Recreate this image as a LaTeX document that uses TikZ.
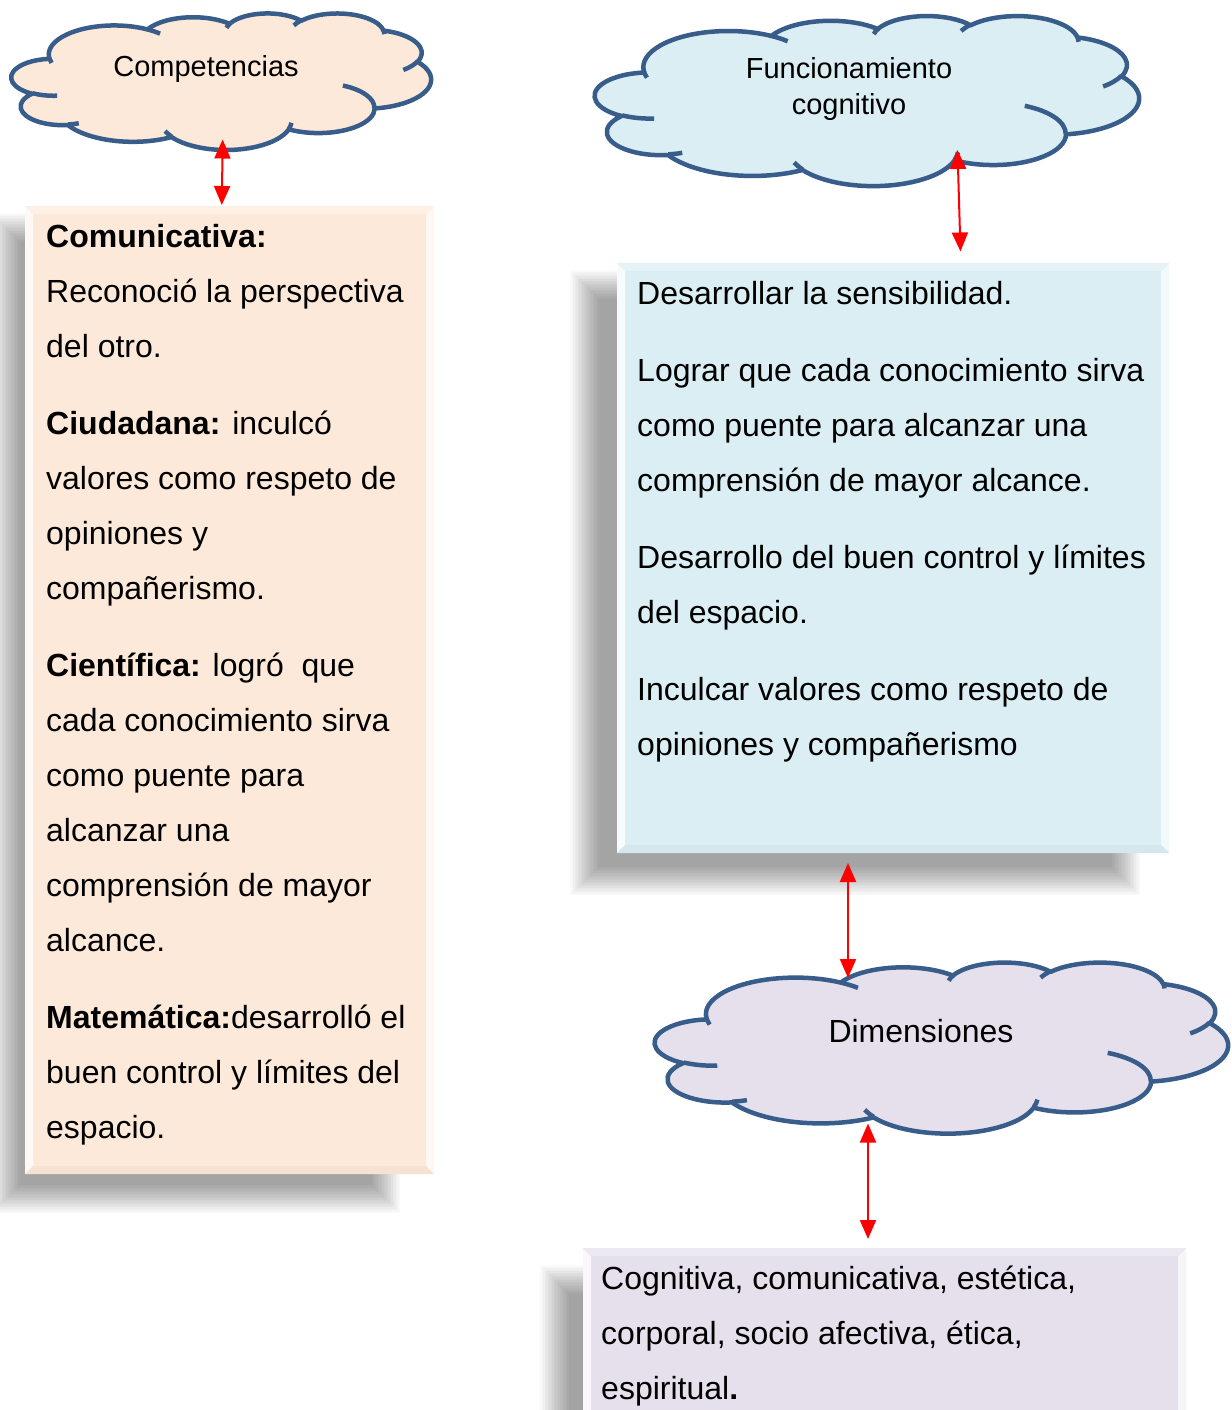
\documentclass[tikz,border=0pt]{standalone}
\usepackage{fontspec}
\setmainfont{Liberation Sans}
\usetikzlibrary{arrows.meta}
\definecolor{peach}{HTML}{FDE9D9}
\definecolor{aqua}{HTML}{DAEEF3}
\definecolor{lav}{HTML}{E5E0EC}
\definecolor{cloudline}{HTML}{385D8A}
\tikzset{
  carc/.style n args={4}{insert path={arc[start angle={atan2(#1*sin(#3),#2*cos(#3))},
      delta angle={mod(atan2(#1*sin(#3+#4),#2*cos(#3+#4))-atan2(#1*sin(#3),#2*cos(#3))+720,360)},
      x radius=#1, y radius=#2]}},
  cloudstroke/.style={draw=cloudline, line width=4.5pt, line join=round},
  redtip/.tip={Triangle[length=19pt,width=16pt]},
  biarrow/.style={draw=red, line width=2pt, redtip-redtip},
  bodytext/.style={font={\fontsize{32}{55}\selectfont}, align=left, inner sep=0pt, text=black},
  cloudtext/.style={font={\fontsize{29}{36}\selectfont}, align=center, inner sep=0pt, text=black},
}
% Office-style cloud: x0 y0 width height fill
\newcommand\officecloud[5]{%
\begin{scope}[shift={(#1,#2)},xscale={#3/432},yscale={#4/432}]
\filldraw[cloudstroke,fill=#5] (39,143.70)
  [carc={67.53}{91.90}{-190.4875}{123.7805}]
  [carc={53.33}{72.67}{-144.1024}{89.9452}]
  [carc={43.65}{59.45}{-145.8079}{99.7230}]
  [carc={48.57}{65.95}{-130.9861}{117.2417}]
  [carc={53.33}{72.73}{-78.7089}{109.0269}]
  [carc={67.75}{92.20}{-46.2673}{130.2690}]
  [carc={57.85}{78.67}{0.6250}{114.0333}]
  [carc={67.52}{92.15}{22.4516}{115.1726}]
  [carc={77.20}{105.43}{66.2426}{75.7110}]
  [carc={43.60}{59.18}{-274.9421}{146.7356}]
  [carc={43.45}{59.45}{-246.8285}{152.5189}] -- cycle;
\draw[cloudstroke]
  (46.93,261.77) [carc={43.45}{59.45}{86.7420}{26.4295}]
  (69.28,348.99) [carc={43.60}{59.18}{73.6105}{11.4475}]
  (164.78,390.90) [carc={67.52}{92.15}{137.6242}{14.0811}]
  (288.27,347.51) [carc={67.52}{92.15}{6.4533}{15.9984}]
  (341.29,229.54) [carc={57.85}{78.67}{-70.2924}{70.9174}]
  (417.98,153.54) [carc={53.33}{72.73}{30.3180}{27.7515}]
  (383.24,54.26) [carc={48.57}{65.95}{-13.7443}{14.8589}]
  (290.78,39.52) [carc={48.57}{65.95}{-149.1815}{18.1954}]
  (221.41,47.20) [carc={43.65}{59.45}{-163.4943}{17.6864}]
  (140.00,51.92) [carc={67.53}{91.90}{-66.7070}{12.3194}]
  (41.27,157.89) [carc={67.53}{91.90}{157.6544}{11.8582}];
\end{scope}}
% soft shadow: core x1 y1 x2 y2
\newcommand\myshadow[4]{%
\foreach \i in {0,...,19}{
  \fill[black, fill opacity=0.019] ({#1-15+\i*1.5},{#2-15+\i*1.5}) rectangle ({#3+15-\i*1.5},{#4+15-\i*1.5});
}}
% bevelled box: name x1 y1 x2 y2 colour
\newcommand\mybevelbox[6]{%
\fill[#6] (#2,#3) rectangle (#4,#5);
\fill[white!75!#6] (#2,#3) -- ({#2+8},{#3+8}) -- ({#2+8},{#5-8}) -- (#2,#5) -- cycle;
\fill[white!65!#6] (#4,#3) -- ({#4-8},{#3+8}) -- ({#4-8},{#5-8}) -- (#4,#5) -- cycle;
\fill[white!30!#6] (#2,#3) -- (#4,#3) -- ({#4-8},{#3+8}) -- ({#2+8},{#3+8}) -- cycle;
\fill[#6!97!black] (#2,#5) -- (#4,#5) -- ({#4-8},{#5-8}) -- ({#2+8},{#5-8}) -- cycle;
\node[inner sep=0pt, minimum width={(#4-#2)*1pt}, minimum height={(#5-#3)*1pt}] (#1) at ({(#2+#4)/2},{(#3+#5)/2}) {};
}
\begin{document}
\begin{tikzpicture}[x=1pt,y=-1pt]
\useasboundingbox (0,0) rectangle (1231,1410);
\fill[white] (0,0) rectangle (1231,1410);

% shadows
\myshadow{6}{228}{385}{1198}
\myshadow{585}{285}{1125}{880}
\myshadow{555}{1280}{1145}{1460}

% boxes
\mybevelbox{b1}{25}{206}{434}{1174}{peach}
\mybevelbox{b2}{617}{263}{1169}{853}{aqua}
\mybevelbox{b3}{583}{1248}{1186}{1440}{lav}

% clouds
\officecloud{11.5}{13}{419.5}{136.5}{peach}
\officecloud{595}{15.5}{544}{170}{aqua}
\officecloud{655}{962}{573}{171}{lav}

\node[cloudtext, anchor=base] (c1) at (206,77) {Competencias};
\node[cloudtext, anchor=north] (c2) at (849,54) {\rule{0pt}{24pt}Funcionamiento\\cognitivo};
\node[cloudtext, font={\fontsize{32}{40}\selectfont}, anchor=base] (c3) at (921,1042) {Dimensiones};

% texts
\node[bodytext, anchor=north west] (t1) at (46,222.5) {\rule{0pt}{25pt}\textbf{Comunicativa:}\\
Reconoció la perspectiva\\
del otro.\\[22pt]
\textbf{Ciudadana:} inculcó\\
valores como respeto de\\
opiniones y\\
compañerismo.\\[22pt]
\textbf{Científica:} logró\ \ que\\
cada conocimiento sirva\\
como puente para\\
alcanzar una\\
comprensión de mayor\\
alcance.\\[22pt]
\textbf{Matemática:}desarrolló el\\
buen control y límites del\\
espacio.};

\node[bodytext, anchor=north west] (t2) at (637,279.5) {\rule{0pt}{25pt}Desarrollar la sensibilidad.\\[22pt]
Lograr que cada conocimiento sirva\\
como puente para alcanzar una\\
comprensión de mayor alcance.\\[22pt]
Desarrollo del buen control y límites\\
del espacio.\\[22pt]
Inculcar valores como respeto de\\
opiniones y compañerismo};

\node[bodytext, anchor=north west] (t3) at (601,1264) {\rule{0pt}{25pt}Cognitiva, comunicativa, estética,\\
corporal, socio afectiva, ética,\\
espiritual\textbf{.}};

% connectors
\coordinate (a1s) at (222.7,139.5);
\coordinate (a1e) at (221.8,205);
\coordinate (a2s) at (957.5,150);
\coordinate (a2e) at (960.5,251.5);
\coordinate (a3s) at (848,863);
\coordinate (a3e) at (848,978);
\coordinate (a4s) at (868,1123.5);
\coordinate (a4e) at (868,1239);
\draw[biarrow] (a1s) -- (a1e);
\draw[biarrow] (a2s) -- (a2e);
\draw[biarrow] (a3s) -- (a3e);
\draw[biarrow] (a4s) -- (a4e);
\end{tikzpicture}
\end{document}
